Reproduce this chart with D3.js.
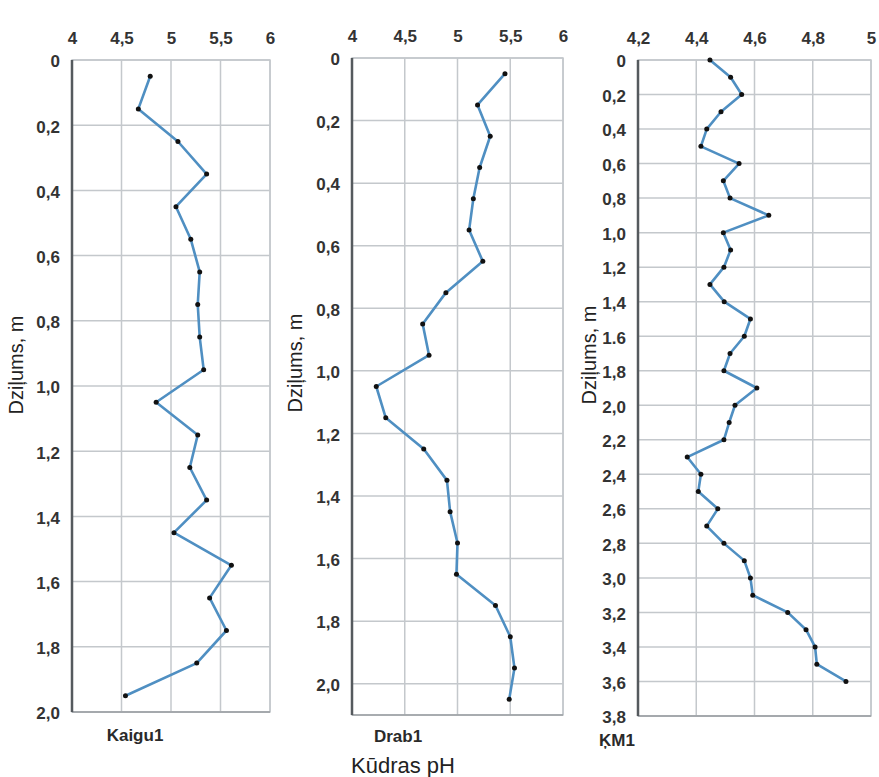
<!DOCTYPE html>
<html>
<head>
<meta charset="utf-8">
<script src="https://cdn.jsdelivr.net/npm/d3@7"></script>
<style>
  body { margin: 0; background: #fff; }
  text { font-family: "Liberation Sans", Arial, sans-serif; }
  .tick-label { font-size: 17px; font-weight: bold; fill: #333; }
</style>
</head>
<body>
<div id="chart"></div>
<script>
// Kaigu1 profile
var kaiguDepth = [0.05, 0.15, 0.25, 0.35, 0.45, 0.55, 0.65, 0.75, 0.85, 0.95,
                  1.05, 1.15, 1.25, 1.35, 1.45, 1.55, 1.65, 1.75, 1.85, 1.95];
var kaiguPH    = [4.79, 4.67, 5.07, 5.36, 5.05, 5.20, 5.29, 5.27, 5.29, 5.33,
                  4.85, 5.27, 5.19, 5.36, 5.03, 5.61, 5.39, 5.56, 5.26, 4.54];

// Drab1 profile
var drabDepth = [0.05, 0.15, 0.25, 0.35, 0.45, 0.55, 0.65, 0.75, 0.85, 0.95,
                 1.05, 1.15, 1.25, 1.35, 1.45, 1.55, 1.65, 1.75, 1.85, 1.95, 2.05];
var drabPH    = [5.45, 5.19, 5.31, 5.21, 5.15, 5.11, 5.24, 4.89, 4.67, 4.73,
                 4.23, 4.32, 4.68, 4.90, 4.93, 5.00, 4.99, 5.36, 5.50, 5.54, 5.49];

// KM1 profile
var km1Depth = [0.0, 0.1, 0.2, 0.3, 0.4, 0.5, 0.6, 0.7, 0.8, 0.9,
                1.0, 1.1, 1.2, 1.3, 1.4, 1.5, 1.6, 1.7, 1.8, 1.9,
                2.0, 2.1, 2.2, 2.3, 2.4, 2.5, 2.6, 2.7, 2.8, 2.9,
                3.0, 3.1, 3.2, 3.3, 3.4, 3.5, 3.6];
var km1PH    = [4.447, 4.518, 4.556, 4.485, 4.436, 4.416, 4.547, 4.493, 4.516, 4.649,
                4.493, 4.518, 4.495, 4.447, 4.496, 4.586, 4.565, 4.516, 4.495, 4.608,
                4.533, 4.513, 4.495, 4.369, 4.416, 4.407, 4.474, 4.436, 4.495, 4.565,
                4.586, 4.594, 4.714, 4.777, 4.808, 4.814, 4.914];

// tick values and their printed labels
var phTicks       = [4, 4.5, 5, 5.5, 6];
var phLabels      = ["4", "4,5", "5", "5,5", "6"];
var km1PhTicks    = [4.2, 4.4, 4.6, 4.8, 5];
var km1PhLabels   = ["4,2", "4,4", "4,6", "4,8", "5"];
var depthTicks    = [0, 0.2, 0.4, 0.6, 0.8, 1.0, 1.2, 1.4, 1.6, 1.8, 2.0];
var depthLabels   = ["0", "0,2", "0,4", "0,6", "0,8", "1,0", "1,2", "1,4", "1,6", "1,8", "2,0"];
var km1DepthTicks = [0, 0.2, 0.4, 0.6, 0.8, 1.0, 1.2, 1.4, 1.6, 1.8, 2.0,
                     2.2, 2.4, 2.6, 2.8, 3.0, 3.2, 3.4, 3.6, 3.8];
var km1DepthLabels = ["0", "0,2", "0,4", "0,6", "0,8", "1,0", "1,2", "1,4", "1.6", "1,8", "2,0",
                      "2,2", "2,4", "2,6", "2,8", "3,0", "3,2", "3,4", "3,6", "3,8"];

var width  = 879,
    height = 777;

var svg = d3.select("#chart")
            .append("svg")
            .attr("width", width)
            .attr("height", height);

var panels = [
  { name: "Kaigu1", depth: kaiguDepth, ph: kaiguPH,
    left: 72, right: 270, top: 60, bottom: 712,
    phDomain: [4, 6], depthDomain: [0, 2.0],
    xTicks: phTicks, xLabels: phLabels, yTicks: depthTicks, yLabels: depthLabels,
    yTitleX: 16, yTitleY: 365, nameX: 135, nameY: 741 },
  { name: "Drab1", depth: drabDepth, ph: drabPH,
    left: 352, right: 563, top: 58, bottom: 715,
    phDomain: [4, 6], depthDomain: [0, 2.1],
    xTicks: phTicks, xLabels: phLabels, yTicks: depthTicks, yLabels: depthLabels,
    yTitleX: 295, yTitleY: 363, nameX: 398, nameY: 742 },
  { name: "ĶM1", depth: km1Depth, ph: km1PH,
    left: 638, right: 871, top: 60, bottom: 716,
    phDomain: [4.2, 5], depthDomain: [0, 3.8],
    xTicks: km1PhTicks, xLabels: km1PhLabels, yTicks: km1DepthTicks, yLabels: km1DepthLabels,
    yTitleX: 589, yTitleY: 355, nameX: 617, nameY: 746 }
];

panels.forEach(function (p) {
  var x = d3.scaleLinear().domain(p.phDomain).range([p.left, p.right]);
  var y = d3.scaleLinear().domain(p.depthDomain).range([p.top, p.bottom]);

  var g = svg.append("g");

  // grid
  g.selectAll(".vgrid")
    .data(p.xTicks)
    .enter()
    .append("line")
    .attr("x1", function (d) { return x(d); })
    .attr("x2", function (d) { return x(d); })
    .attr("y1", p.top)
    .attr("y2", p.bottom)
    .attr("stroke", "#c4c8cc")
    .attr("stroke-width", 1.5);

  g.selectAll(".hgrid")
    .data(p.yTicks)
    .enter()
    .append("line")
    .attr("x1", p.left)
    .attr("x2", p.right)
    .attr("y1", function (d) { return y(d); })
    .attr("y2", function (d) { return y(d); })
    .attr("stroke", "#c4c8cc")
    .attr("stroke-width", 1.5);

  // frame
  g.append("rect")
    .attr("x", p.left)
    .attr("y", p.top)
    .attr("width", p.right - p.left)
    .attr("height", p.bottom - p.top)
    .attr("fill", "none")
    .attr("stroke", "#c4c8cc")
    .attr("stroke-width", 1.5);

  g.append("line")
    .attr("x1", p.left).attr("x2", p.right)
    .attr("y1", p.bottom).attr("y2", p.bottom)
    .attr("stroke", "#9a9ea2")
    .attr("stroke-width", 1.5);

  g.append("line")
    .attr("x1", p.left).attr("x2", p.left)
    .attr("y1", p.top).attr("y2", p.bottom)
    .attr("stroke", "#555a5e")
    .attr("stroke-width", 2.5);

  // axes labels
  var xAxis = d3.axisTop(x)
                .tickValues(p.xTicks)
                .tickSize(0)
                .tickPadding(0)
                .tickFormat(function (d, i) { return p.xLabels[i]; });

  g.append("g")
    .attr("transform", "translate(0," + (p.top - 16) + ")")
    .call(xAxis)
    .call(function (s) { s.select(".domain").remove(); })
    .selectAll("text")
    .attr("class", "tick-label")
    .attr("dy", "0");

  var yAxis = d3.axisLeft(y)
                .tickValues(p.yTicks)
                .tickSize(0)
                .tickPadding(12)
                .tickFormat(function (d, i) { return p.yLabels[i]; });

  g.append("g")
    .attr("transform", "translate(" + p.left + ",0)")
    .call(yAxis)
    .call(function (s) { s.select(".domain").remove(); })
    .selectAll("text")
    .attr("class", "tick-label")
    .attr("dy", "0.4em");

  // profile line
  var pts = p.depth.map(function (d, i) { return [p.ph[i], d]; });

  var line = d3.line()
               .x(function (d) { return x(d[0]); })
               .y(function (d) { return y(d[1]); });

  g.append("path")
    .datum(pts)
    .attr("d", line)
    .attr("fill", "none")
    .attr("stroke", "#4f8fc2")
    .attr("stroke-width", 2.6)
    .attr("stroke-linejoin", "round");

  g.selectAll(".pt")
    .data(pts)
    .enter()
    .append("circle")
    .attr("cx", function (d) { return x(d[0]); })
    .attr("cy", function (d) { return y(d[1]); })
    .attr("r", 2.5)
    .attr("fill", "#111");

  // titles
  g.append("text")
    .attr("transform", "translate(" + p.yTitleX + "," + p.yTitleY + ") rotate(-90)")
    .attr("text-anchor", "middle")
    .attr("dy", "0.35em")
    .style("font-size", "20px")
    .style("fill", "#222")
    .text("Dziļums, m");

  g.append("text")
    .attr("x", p.nameX)
    .attr("y", p.nameY)
    .attr("text-anchor", "middle")
    .style("font-size", "17px")
    .style("font-weight", "bold")
    .style("fill", "#2a2a2a")
    .text(p.name);
});

svg.append("text")
  .attr("x", 403)
  .attr("y", 773)
  .attr("text-anchor", "middle")
  .style("font-size", "22px")
  .style("fill", "#222")
  .text("Kūdras pH");
</script>
</body>
</html>
